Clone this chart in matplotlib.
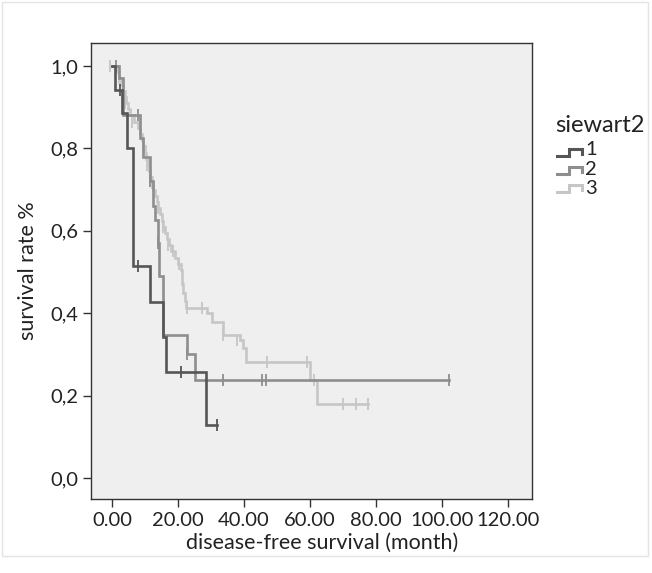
import matplotlib
matplotlib.use("Agg")
import matplotlib.pyplot as plt
from matplotlib.lines import Line2D
from matplotlib.patches import Rectangle

plt.rcParams['font.family'] = ['Lato', 'DejaVu Sans']

# ---- data ----
group_labels = ["1", "2", "3"]
group_colors = ["#565656", "#8e8e8e", "#c6c6c6"]

# group 1
g1_times = [0.0, 1.0, 3.0, 4.6, 6.2, 11.5, 15.4, 16.3, 28.5, 31.8]
g1_surv = [1.0, 0.943, 0.886, 0.80, 0.514, 0.428, 0.343, 0.257, 0.129, 0.129]
g1_cens_t = [2.5, 7.8, 21.0, 31.8]
g1_cens_s = [0.943, 0.514, 0.257, 0.129]

# group 2
g2_times = [0.0, 2.0, 3.2, 8.5, 9.5, 11.4, 12.3, 12.9, 13.8, 14.1, 15.3, 22.6, 25.0, 102.0]
g2_surv = [1.0, 0.97, 0.881, 0.825, 0.78, 0.72, 0.66, 0.626, 0.57, 0.49, 0.347, 0.30, 0.238, 0.238]
g2_cens_t = [1.2, 8.0, 11.6, 14.0, 22.7, 33.6, 45.5, 46.7, 102.0]
g2_cens_s = [1.0, 0.881, 0.72, 0.57, 0.30, 0.238, 0.238, 0.238, 0.238]

# group 3
g3_times = [0.0, 1.5, 2.2, 2.8, 3.3, 3.8, 4.3, 4.8, 5.5, 6.5, 7.8, 8.5, 9.0, 9.5,
            10.0, 10.4, 10.8, 11.2, 11.6, 12.0, 12.5, 13.0, 13.5, 14.0, 14.5,
            15.0, 15.5, 16.0, 16.6, 17.2, 18.0, 19.0, 20.0, 20.8, 21.3, 21.6,
            22.0, 22.4, 28.8, 30.3, 33.6, 38.8, 39.7, 40.6, 60.0, 62.1, 77.6]
g3_surv = [1.0, 0.985, 0.97, 0.955, 0.94, 0.925, 0.91, 0.895, 0.88, 0.865, 0.85,
           0.835, 0.82, 0.805, 0.79, 0.775, 0.76, 0.745, 0.73, 0.715, 0.70,
           0.685, 0.67, 0.655, 0.64, 0.625, 0.61, 0.595, 0.58, 0.565, 0.55,
           0.535, 0.52, 0.505, 0.47, 0.45, 0.43, 0.413, 0.40, 0.379, 0.347,
           0.335, 0.316, 0.282, 0.238, 0.18, 0.18]
g3_cens_t = [-0.5, 2.0, 4.0, 6.0, 9.4, 10.6, 12.2, 14.0, 15.5, 17.0, 18.5, 20.2,
             22.7, 27.3, 33.6, 37.9, 47.0, 59.0, 61.2, 70.0, 74.0, 77.6]
g3_cens_s = [1.0, 0.97, 0.91, 0.865, 0.805, 0.76, 0.715, 0.655, 0.61, 0.565,
             0.55, 0.52, 0.413, 0.413, 0.347, 0.335, 0.282, 0.282, 0.238, 0.18,
             0.18, 0.18]

x_ticks = [0, 20, 40, 60, 80, 100, 120]
x_ticklabels = ["0.00", "20.00", "40.00", "60.00", "80.00", "100.00", "120.00"]
y_ticks = [0.0, 0.2, 0.4, 0.6, 0.8, 1.0]
y_ticklabels = ["0,0", "0,2", "0,4", "0,6", "0,8", "1,0"]

FS = 14.5
FS_LAB = 15.5
FS_LEG = 17

# ---- figure ----
W, H = 652, 573
fig = plt.figure(figsize=(W / 100, H / 100), dpi=100)
fig.patch.set_facecolor("white")
ax = fig.add_axes([91 / W, 1 - 499 / H, (532 - 91) / W, (499 - 43) / H])
ax.set_facecolor("#efefef")

series = [
    (g1_times, g1_surv, g1_cens_t, g1_cens_s),
    (g2_times, g2_surv, g2_cens_t, g2_cens_s),
    (g3_times, g3_surv, g3_cens_t, g3_cens_s),
]
# draw light first so dark lies on top
for idx in [2, 1, 0]:
    t, s, ct, cs = series[idx]
    c = group_colors[idx]
    ax.step(t, s, where="post", color=c, lw=1.9, solid_joinstyle="miter")
    ax.plot(ct, cs, linestyle="none", marker="|", markersize=8, mew=1.3, color=c)

ax.set_xlim(-6.4, 127.3)
ax.set_ylim(-0.051, 1.056)
ax.set_xticks(x_ticks)
ax.set_xticklabels(x_ticklabels)
ax.set_yticks(y_ticks)
ax.set_yticklabels(y_ticklabels)
ax.tick_params(axis="both", direction="out", length=6, width=1, color="#333333",
               labelsize=FS, labelcolor="#222222", pad=3)
for sp in ax.spines.values():
    sp.set_color("#333333")
    sp.set_linewidth(1.0)

ax.set_xlabel("disease-free survival (month)", fontsize=FS_LAB, color="#222222")
ax.xaxis.set_label_coords(0.524, -0.075)
ax.set_ylabel("survival rate %", fontsize=FS_LAB, color="#222222", labelpad=9)

# ---- legend (manual, in figure pixel coords) ----
def fx(px):
    return px / W

def fy(py):
    return 1 - py / H

fig.text(fx(555), fy(126), "siewart2", fontsize=FS_LEG, color="#222222",
         ha="left", va="center")
for i, col in enumerate(group_colors):
    yc = 151 + i * 18
    xs = [fx(557), fx(569), fx(569), fx(582), fx(582)]
    ys = [fy(yc + 5), fy(yc + 5), fy(yc - 2), fy(yc - 2), fy(yc + 3)]
    fig.add_artist(Line2D(xs, ys, color=col, lw=2.2, transform=fig.transFigure,
                          solid_joinstyle="miter"))
fig.text(fx(585), fy(169), "\n".join(group_labels), fontsize=FS, color="#222222",
         ha="left", va="center", linespacing=1.2)

# faint outer frame
fig.add_artist(Rectangle((fx(2), fy(556)), fx(648) - fx(2), fy(2) - fy(556),
                         transform=fig.transFigure, fill=False,
                         edgecolor="#e4e4e4", lw=1))

fig.savefig("out.png", dpi=100)
